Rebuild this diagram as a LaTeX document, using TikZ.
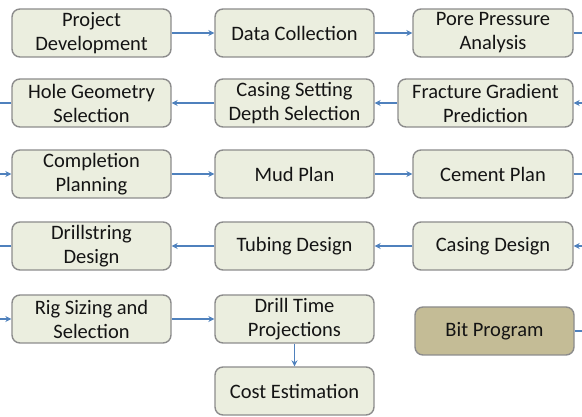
\documentclass[tikz,border=0pt]{standalone}
\usepackage{fontspec}
\setmainfont{Carlito}
\usetikzlibrary{arrows.meta}
\definecolor{boxfill}{HTML}{EBEEDF}
\definecolor{boxedge}{HTML}{8C8C8C}
\definecolor{bitfill}{HTML}{C4BC96}
\definecolor{flow}{HTML}{4F81BD}
\definecolor{ink}{HTML}{141414}
\tikzset{
  stage/.style={draw=boxedge, line width=1.4pt, fill=boxfill, rounded corners=8pt,
    minimum width=159pt, minimum height=48pt, inner sep=0pt, align=center,
    text=ink, font=\fontsize{20.5}{24}\selectfont},
  bitstage/.style={stage, fill=bitfill},
  link/.style={draw=flow, line width=1.3pt, -{Stealth[length=6pt,width=6pt]}},
  tail/.style={draw=flow, line width=1.3pt}
}
\begin{document}
\begin{tikzpicture}[x=1pt,y=1pt]
\useasboundingbox (0,0) rectangle (582,-417);
% row 1
\node[stage] (proj) at (91.5,-33) {Project\\Development};
\node[stage] (data) at (294.5,-33) {Data Collection};
\node[stage, minimum width=160pt] (pore) at (493,-33) {Pore Pressure\\Analysis};
% row 2
\node[stage] (hole) at (91.5,-103) {Hole Geometry\\Selection};
\node[stage] (csd) at (294.5,-103) {Casing Setting\\Depth Selection};
\node[stage, minimum width=175pt] (frac) at (485.5,-103) {Fracture Gradient\\Prediction};
% row 3
\node[stage] (comp) at (91.5,-174) {Completion\\Planning};
\node[stage] (mud) at (294.5,-174) {Mud Plan};
\node[stage, minimum width=160pt] (cem) at (493,-174) {Cement Plan};
% row 4
\node[stage] (drill) at (91.5,-246) {Drillstring\\Design};
\node[stage] (tub) at (294.5,-246) {Tubing Design};
\node[stage, minimum width=160pt] (cas) at (493,-246) {Casing Design};
% row 5
\node[stage] (rig) at (91.5,-319) {Rig Sizing and\\Selection};
\node[stage] (time) at (294.5,-319) {Drill Time\\Projections};
\node[bitstage] (bit) at (494.5,-331) {Bit Program};
\node[stage] (cost) at (294.5,-391) {Cost Estimation};
% loose ends at the page edges
\coordinate (r1) at (584,-33);
\coordinate (r2) at (584,-103);
\coordinate (r3) at (584,-174);
\coordinate (r4) at (584,-246);
\coordinate (r5) at (584,-331);
\coordinate (l2) at (-2,-103);
\coordinate (l3) at (-2,-174);
\coordinate (l4) at (-2,-246);
\coordinate (l5) at (-2,-319);
% flow
\draw[link] (proj) -- (data);
\draw[link] (data) -- (pore);
\draw[tail] (pore) -- (r1);
\draw[link] (r2) -- (frac);
\draw[link] (frac) -- (csd);
\draw[link] (csd) -- (hole);
\draw[tail] (hole) -- (l2);
\draw[link] (l3) -- (comp);
\draw[link] (comp) -- (mud);
\draw[link] (mud) -- (cem);
\draw[tail] (cem) -- (r3);
\draw[link] (r4) -- (cas);
\draw[link] (cas) -- (tub);
\draw[link] (tub) -- (drill);
\draw[tail] (drill) -- (l4);
\draw[link] (l5) -- (rig);
\draw[link] (rig) -- (time);
\draw[link] (time) -- (cost);
\draw[tail] (bit) -- (r5);
\end{tikzpicture}
\end{document}
